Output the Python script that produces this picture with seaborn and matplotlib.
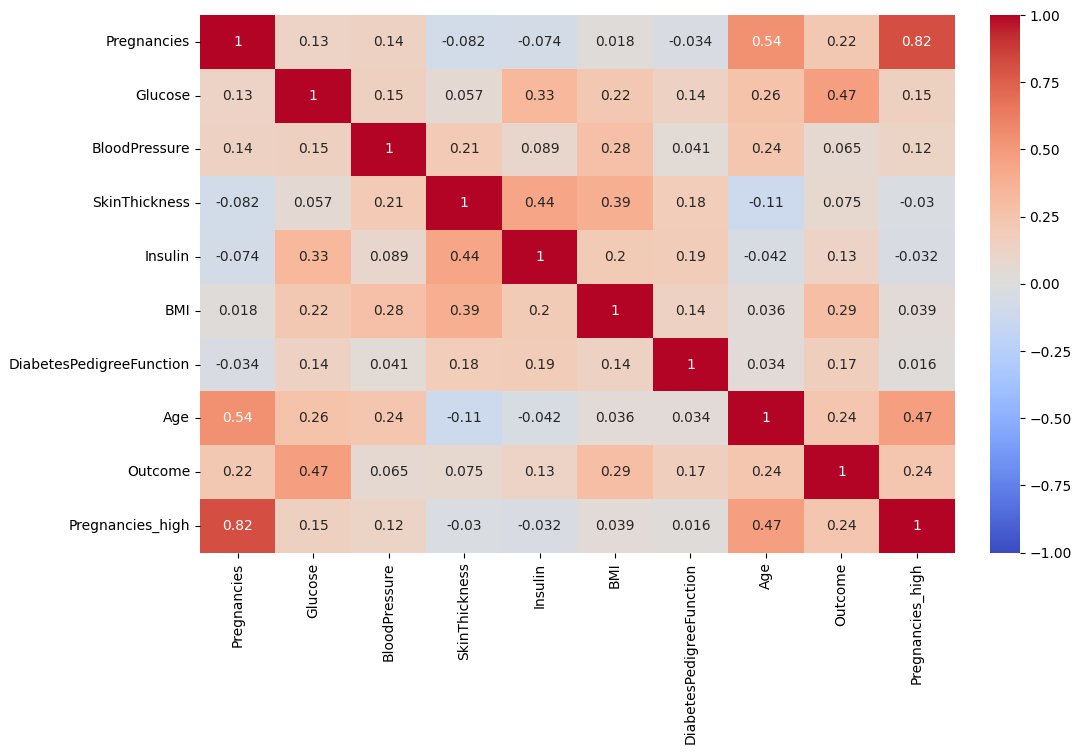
import numpy as np
import pandas as pd
import seaborn as sns
import matplotlib.pyplot as plt

# 特征名称
columns = ["Pregnancies", "Glucose", "BloodPressure", "SkinThickness", "Insulin",
           "BMI", "DiabetesPedigreeFunction", "Age", "Outcome", "Pregnancies_high"]

# 相关系数矩阵（按行）
row_pregnancies = [1, 0.13, 0.14, -0.082, -0.074, 0.018, -0.034, 0.54, 0.22, 0.82]
row_glucose = [0.13, 1, 0.15, 0.057, 0.33, 0.22, 0.14, 0.26, 0.47, 0.15]
row_bloodpressure = [0.14, 0.15, 1, 0.21, 0.089, 0.28, 0.041, 0.24, 0.065, 0.12]
row_skinthickness = [-0.082, 0.057, 0.21, 1, 0.44, 0.39, 0.18, -0.11, 0.075, -0.03]
row_insulin = [-0.074, 0.33, 0.089, 0.44, 1, 0.2, 0.19, -0.042, 0.13, -0.032]
row_bmi = [0.018, 0.22, 0.28, 0.39, 0.2, 1, 0.14, 0.036, 0.29, 0.039]
row_dpf = [-0.034, 0.14, 0.041, 0.18, 0.19, 0.14, 1, 0.034, 0.17, 0.016]
row_age = [0.54, 0.26, 0.24, -0.11, -0.042, 0.036, 0.034, 1, 0.24, 0.47]
row_outcome = [0.22, 0.47, 0.065, 0.075, 0.13, 0.29, 0.17, 0.24, 1, 0.24]
row_preg_high = [0.82, 0.15, 0.12, -0.03, -0.032, 0.039, 0.016, 0.47, 0.24, 1]

corr = pd.DataFrame([row_pregnancies, row_glucose, row_bloodpressure, row_skinthickness,
                     row_insulin, row_bmi, row_dpf, row_age, row_outcome, row_preg_high],
                    index=columns, columns=columns)

# 画图
fig = plt.figure(figsize=(10.8, 7.55), dpi=100)
ax = fig.add_axes([0.185, 0.268, 0.699, 0.712])
cax = fig.add_axes([0.917, 0.268, 0.027, 0.712])
sns.heatmap(corr, annot=True, cmap="coolwarm", vmin=-1, vmax=1, ax=ax, cbar_ax=cax)
plt.savefig("out.png", dpi=100)
